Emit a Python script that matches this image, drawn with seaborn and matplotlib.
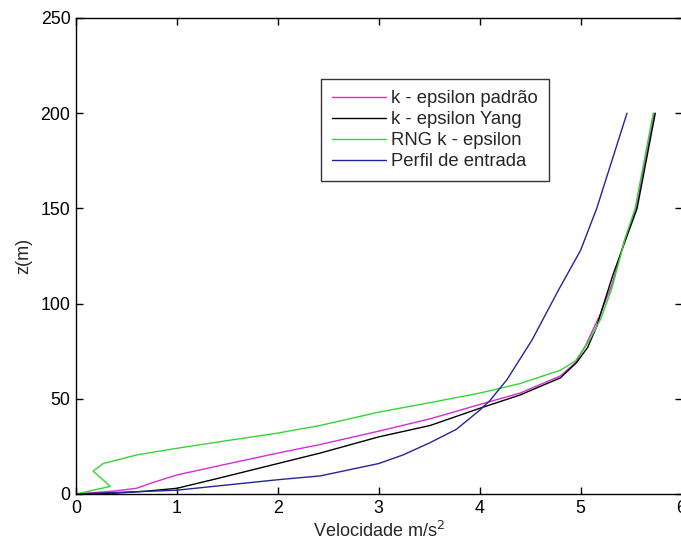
import matplotlib
matplotlib.use("Agg")
import matplotlib.pyplot as plt
import seaborn as sns
import pandas as pd

# ---- data ----
labels = ["k - epsilon padrão", "k - epsilon Yang", "RNG k - epsilon", "Perfil de entrada"]
colors = ["#d62bd6", "#000000", "#33d633", "#24249a"]

x_padrao = [0.0, 0.37, 0.6, 0.76, 1.0, 1.43, 2.0, 2.42, 3.0, 3.51, 4.0, 4.4, 4.8, 4.95, 5.05, 5.12, 5.2, 5.31, 5.44, 5.55, 5.73]
z_padrao = [0.0, 1.5, 3.0, 6.0, 10.0, 15.0, 21.5, 26.0, 33.0, 39.5, 47.0, 53.0, 62.0, 69.0, 78.0, 86.0, 95.0, 110.0, 134.0, 150.0, 200.0]

x_yang = [0.0, 0.4, 0.7, 1.0, 1.43, 2.0, 2.42, 3.0, 3.51, 4.0, 4.4, 4.8, 4.96, 5.07, 5.16, 5.23, 5.32, 5.45, 5.56, 5.74]
z_yang = [0.0, 0.5, 1.5, 3.0, 8.5, 16.0, 21.5, 30.0, 36.0, 45.0, 52.0, 61.0, 69.0, 77.0, 88.0, 100.0, 115.0, 134.0, 150.0, 200.0]

x_rng = [0.0, 0.34, 0.17, 0.27, 0.6, 1.0, 1.43, 2.0, 2.42, 3.0, 3.51, 4.0, 4.4, 4.8, 4.95, 5.08, 5.2, 5.31, 5.44, 5.54, 5.72]
z_rng = [0.0, 4.0, 12.0, 16.0, 20.5, 24.0, 27.5, 32.0, 36.0, 43.0, 48.0, 53.0, 58.0, 65.0, 70.0, 80.0, 92.0, 108.0, 134.0, 150.0, 200.0]

x_entrada = [0.0, 0.5, 1.0, 2.0, 2.42, 3.0, 3.24, 3.51, 3.77, 4.0, 4.1, 4.27, 4.52, 4.78, 5.0, 5.16, 5.46]
z_entrada = [0.0, 1.0, 2.0, 7.5, 9.5, 16.0, 20.5, 27.0, 34.0, 44.0, 49.0, 60.0, 81.0, 107.0, 128.0, 150.0, 200.0]

x_ticks = [0, 1, 2, 3, 4, 5, 6]
y_ticks = [0, 50, 100, 150, 200, 250]

frames = []
for lab, xs, zs in zip(labels,
                       [x_padrao, x_yang, x_rng, x_entrada],
                       [z_padrao, z_yang, z_rng, z_entrada]):
    frames.append(pd.DataFrame({"vel": xs, "z": zs, "modelo": lab}))
df = pd.concat(frames, ignore_index=True)

sns.set_style("ticks")
plt.rcParams["font.family"] = ["Liberation Sans", "DejaVu Sans"]

fig = plt.figure(figsize=(6.81, 5.48), dpi=100)
ax = fig.add_axes([76 / 681, 54 / 548, 605.5 / 681, 476 / 548])

sns.lineplot(data=df, x="vel", y="z", hue="modelo", hue_order=labels,
             palette=dict(zip(labels, colors)), sort=False, estimator=None,
             units="modelo", linewidth=1.0, ax=ax)

ax.set_xlim(0, 6)
ax.set_ylim(0, 250)
ax.set_xticks(x_ticks)
ax.set_yticks(y_ticks)
ax.set_xticklabels([str(t) for t in x_ticks])
ax.set_yticklabels([str(t) for t in y_ticks])
ax.tick_params(direction="in", length=5, width=1, top=True, right=True,
               labelsize=12.8, colors="black", pad=4)
for s in ax.spines.values():
    s.set_visible(True)
    s.set_color("black")
    s.set_linewidth(1.0)

ax.set_xlabel("Velocidade m/s$^2$", fontsize=13, labelpad=3)
ax.set_ylabel("z(m)", fontsize=13, labelpad=6)

handles, labs = ax.get_legend_handles_labels()
leg = ax.legend(handles, labs, loc="upper left",
                bbox_to_anchor=(321 / 681, 1 - 79 / 548),
                bbox_transform=fig.transFigure,
                prop={"family": ["Liberation Sans"], "size": 13.3},
                frameon=True, fancybox=False, shadow=False,
                handlelength=2.9, handletextpad=0.3, labelspacing=0.22,
                borderpad=0.6, borderaxespad=0)
leg.get_frame().set_edgecolor("black")
leg.get_frame().set_linewidth(1.0)
for ln in leg.get_lines():
    ln.set_linewidth(1.0)

fig.savefig("out.png", dpi=100)
